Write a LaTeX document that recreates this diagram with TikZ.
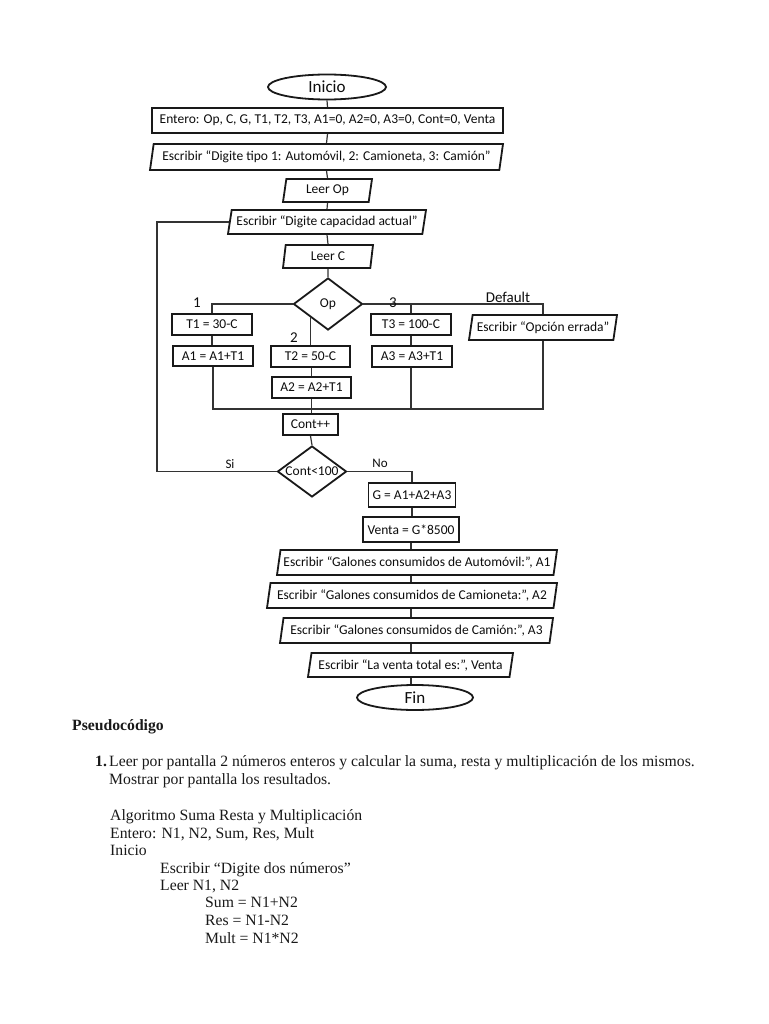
\documentclass[tikz,border=0pt]{standalone}
\usepackage{fontspec}
\setmainfont{Carlito}
\newfontfamily\pseudofont{Liberation Serif}
\usetikzlibrary{shapes.geometric,calc}
\tikzset{
 base/.style={draw=black!90, line width=1.8pt, inner sep=0pt, font=\fontsize{13.5}{15}\selectfont, text=black!95, fill=white},
 proc/.style={base, rectangle},
 io/.style={base, trapezium, trapezium left angle=73, trapezium right angle=107, trapezium stretches body=true},
 term/.style={base, ellipse, font=\fontsize{17}{20}\selectfont},
 dec/.style={base, diamond, aspect=1.33},
 conn/.style={draw=black!80, line width=1.2pt},
 lbl/.style={font=\fontsize{15}{18}\selectfont, text=black!95, inner sep=0pt},
 slbl/.style={font=\fontsize{13}{15}\selectfont, text=black!95, inner sep=0pt},
 pc/.style={font=\pseudofont\fontsize{15.7}{18}\selectfont, anchor=base west, inner sep=0pt, text=black!90},
}
\begin{document}
\begin{tikzpicture}[x=1pt,y=-1pt]
\useasboundingbox[fill=white] (0,0) rectangle (768,1024);

% ---- coordinates for free ends
\coordinate (merge) at (311,409);
\coordinate (loopx) at (157,300);

% ---- nodes
\node[term, minimum width=118pt, minimum height=25pt] (inicio) at (327,87) {Inicio};
\node[proc, minimum width=351pt, minimum height=25pt] (entero) at (327.5,120.5) {Entero: Op, C, G, T1, T2, T3, A1=0, A2=0, A3=0, Cont=0, Venta};
\node[io, minimum width=353pt, minimum height=26pt] (tipo) at (326.5,157) {Escribir “Digite tipo 1: Automóvil, 2: Camioneta, 3: Camión”};
\node[io, minimum width=89pt, minimum height=23pt] (leerop) at (327.5,190.5) {Leer Op};
\node[io, minimum width=198pt, minimum height=24pt] (cap) at (327,222) {Escribir “Digite capacidad actual”};
\node[io, minimum width=90pt, minimum height=23pt] (leerc) at (328,256.5) {Leer C};
\node[dec, minimum width=69pt, minimum height=52pt] (op) at (328,304) {Op};

\node[proc, minimum width=80pt, minimum height=21pt] (t1) at (212,324.5) {T1 = 30-C};
\node[proc, minimum width=80pt, minimum height=20pt] (a1) at (213,356) {A1 = A1+T1};
\node[proc, minimum width=79pt, minimum height=21pt] (t2) at (310.5,356.5) {T2 = 50-C};
\node[proc, minimum width=79pt, minimum height=21pt] (a2) at (311.5,387.5) {A2 = A2+T1};
\node[proc, minimum width=80pt, minimum height=21pt] (t3) at (411,324.5) {T3 = 100-C};
\node[proc, minimum width=80pt, minimum height=21pt] (a3) at (412,356.5) {A3 = A3+T1};

\node[proc, minimum width=55pt, minimum height=21pt] (cont) at (310.5,424.5) {Cont++};
\node[dec, minimum width=69pt, minimum height=51pt] (cond) at (312,471.5) {Cont<100};

\node[proc, minimum width=87pt, minimum height=24pt] (g) at (412,495) {G = A1+A2+A3};
\node[proc, minimum width=96pt, minimum height=25pt] (venta) at (411,529.5) {Venta = G*8500};
\node[io, minimum width=280pt, minimum height=25pt] (auto) at (417,562.5) {Escribir “Galones consumidos de Automóvil:”, A1};
\node[io, minimum width=290pt, minimum height=25pt] (cam) at (412,595.5) {Escribir “Galones consumidos de Camioneta:”, A2};
\node[io, minimum width=273pt, minimum height=25pt] (camion) at (416.5,630.5) {Escribir “Galones consumidos de Camión:”, A3};
\node[io, minimum width=205pt, minimum height=24pt] (total) at (410.5,665) {Escribir “La venta total es:”, Venta};
\node[term, minimum width=116pt, minimum height=25pt] (fin) at (415,697.5) {Fin};

% ---- connectors
\draw[conn] (inicio.south) -- (entero.north);
\draw[conn] (entero.south) -- (tipo.north);
\draw[conn] (tipo.south) -- (leerop.north);
\draw[conn] (leerop.south) -- (cap.north);
\draw[conn] (cap.south) -- (leerc.north);
\draw[conn] (leerc.south) -- (op.north);
\draw[conn] (op.west) -| (t1.north);
\draw[conn] (t1.south) -- (t1.south |- a1.north);
\draw[conn] (a1.south) |- (merge);
\draw[conn] (op.south west) -- (op.south west |- t2.north);
\draw[conn] (t2.south -| a2.north) -- (a2.north);
\draw[conn] (a2.south) -- (cont.north -| a2.south);
\draw[conn] (op.east) -| (t3.north);
\draw[conn] (t3.south) -- (a3.north -| t3.south);
\draw[conn] (a3.south -| t3.south) -- (t3.south |- merge);
\draw[conn] (cont.south) -- (cond.north);
\draw[conn] (cond.west) -- (cond.west -| loopx) |- (cap.west);
\draw[conn] (cond.east) -| (g.north);
\draw[conn] (g.south) -- (g.south |- venta.north);
\draw[conn] (venta.south) -- (venta.south |- auto.north);
\draw[conn] (auto.south -| venta.south) -- (venta.south |- cam.north);
\draw[conn] (cam.south -| venta.south) -- (venta.south |- camion.north);
\draw[conn] (camion.south -| venta.south) -- (venta.south |- total.north);
\draw[conn] (total.south -| venta.south) -- (venta.south |- fin.north);

% default branch, drawn before its box so the box hides it
\coordinate (defr) at (543,304);
\coordinate (defb) at (543,409);
\draw[conn] (t3.north |- op.east) -- (defr) -- (defb) -- (merge);
\node[io, minimum width=148pt, minimum height=25pt] (err) at (543,327.5) {Escribir “Opción errada”};

% ---- branch labels
\node[lbl] (l1) at (197,303) {1};
\node[lbl] (l2) at (294,338) {2};
\node[lbl] (l3) at (393,303) {3};
\node[lbl] (ldef) at (508,297) {Default};
\node[slbl] (lsi) at (230,464) {Si};
\node[slbl] (lno) at (380,463) {No};

% ---- pseudocode
\node[pc, font=\pseudofont\bfseries\fontsize{15.7}{18}\selectfont] (ptitle) at (72,730) {Pseudocódigo};
\node[pc, font=\pseudofont\bfseries\fontsize{15.7}{18}\selectfont] (pnum) at (95,766) {1.};
\node[pc] (p1) at (109,766) {Leer por pantalla 2 números enteros y calcular la suma, resta y multiplicación de los mismos.};
\node[pc] (p2) at (109,784) {Mostrar por pantalla los resultados.};
\node[pc] (p3) at (110,820) {Algoritmo Suma Resta y Multiplicación};
\node[pc] (p4) at (110,838) {Entero: N1, N2, Sum, Res, Mult};
\node[pc] (p5) at (110,855) {Inicio};
\node[pc] (p6) at (160,873) {Escribir “Digite dos números”};
\node[pc] (p7) at (160,890) {Leer N1, N2};
\node[pc] (p8) at (205,907) {Sum = N1+N2};
\node[pc] (p9) at (205,925) {Res = N1-N2};
\node[pc] (p10) at (205,943) {Mult = N1*N2};
\end{tikzpicture}
\end{document}
